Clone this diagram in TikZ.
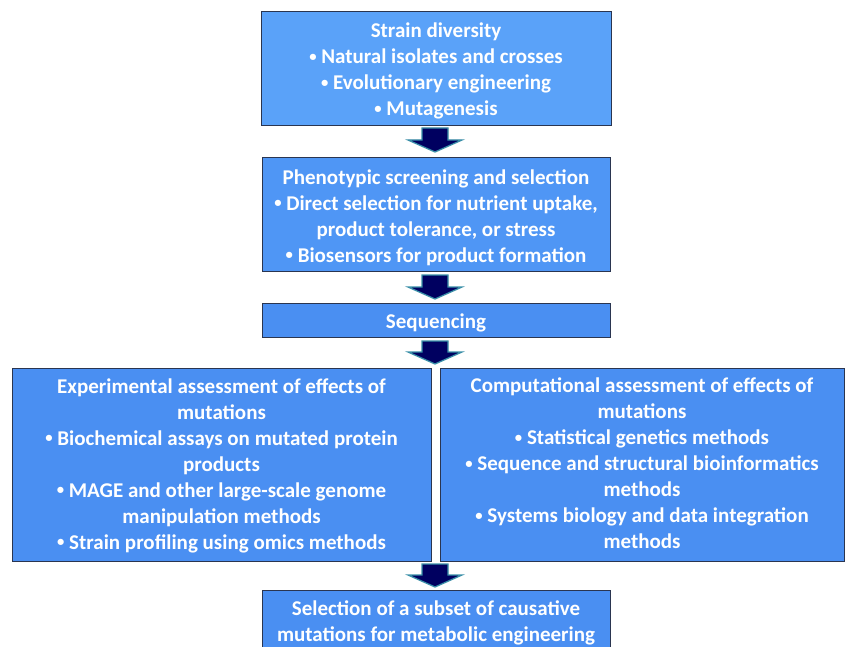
\documentclass[tikz,border=0pt]{standalone}
\usepackage{fontspec}
\setmainfont{Carlito}
\usetikzlibrary{calc}
\definecolor{boxA}{HTML}{5AA2F9}
\definecolor{boxB}{HTML}{4F96F5}
\definecolor{boxC}{HTML}{4A8FF2}
\definecolor{edge}{HTML}{2A3550}
\definecolor{arrfill}{HTML}{000060}
\definecolor{arredge}{HTML}{3A8FA8}
\newcommand{\bul}{\raisebox{0.12em}{\scalebox{0.7}{•}}}
\tikzset{
  box/.style={draw=edge, line width=0.9pt, inner sep=0pt},
  boxtext/.style={text=white, align=center,
    font=\fontsize{21}{26}\selectfont\bfseries, inner sep=0pt},
  barrow/.style={fill=arrfill, draw=arredge, line width=1.3pt, line join=miter}
}
\newcommand{\blockarrow}[2]{% #1 top coordinate, #2 bottom coordinate
  \draw[barrow] ($(#1)+(-13,0)$) -- ($(#1)+(13,0)$) -- ($(#2)+(13,-12)$) -- ($(#2)+(27,-12)$)
    -- (#2) -- ($(#2)+(-27,-12)$) -- ($(#2)+(-13,-12)$) -- cycle;}
\begin{document}
\begin{tikzpicture}[x=1pt,y=-1pt]
\useasboundingbox (0,0) rectangle (845,647);
\clip (0,0) rectangle (845,647);
\node[box, fill=boxA, minimum width=350, minimum height=114] (b1) at (436,68) {};
\node[boxtext] (t1) at ($(b1.center)+(0,3)$)
  {Strain diversity\\ \bul{} Natural isolates and crosses\\ \bul{} Evolutionary engineering\\ \bul{} Mutagenesis};
\node[box, fill=boxB, minimum width=348, minimum height=114] (b2) at (436,214) {};
\node[boxtext] (t2) at ($(b2.center)+(0,3.5)$)
  {Phenotypic screening and selection\\ \bul{} Direct selection for nutrient uptake,\\ product tolerance, or stress\\ \bul{} Biosensors for product formation};
\node[box, fill=boxC, minimum width=348, minimum height=34] (b3) at (436,320) {};
\node[boxtext] (t3) at ($(b3.center)+(0,2.5)$) {Sequencing};
\node[box, fill=boxC, minimum width=419, minimum height=193] (b4) at (221.5,464.5) {};
\node[boxtext] (t4) at ($(b4.center)+(0,1)$)
  {Experimental assessment of effects of\\ mutations\\ \bul{} Biochemical assays on mutated protein\\ products\\ \bul{} MAGE and other large-scale genome\\ manipulation methods\\ \bul{} Strain profiling using omics methods};
\node[box, fill=boxC, minimum width=404, minimum height=193] (b5) at (642,464.5) {};
\node[boxtext] (t5) at ($(b5.center)+(0,-1)$)
  {Computational assessment of effects of\\ mutations\\ \bul{} Statistical genetics methods\\ \bul{} Sequence and structural bioinformatics\\ methods\\ \bul{} Systems biology and data integration\\ methods};
\node[box, fill=boxC, minimum width=348, minimum height=62] (b6) at (436,621) {};
\node[boxtext] (t6) at ($(b6.center)+(0,2)$)
  {Selection of a subset of causative\\ mutations for metabolic engineering};
\coordinate (a1t) at (435,128); \coordinate (a1b) at (435,152);
\coordinate (a2t) at (435,275); \coordinate (a2b) at (435,299);
\coordinate (a3t) at (435,341); \coordinate (a3b) at (435,364);
\coordinate (a4t) at (435,564); \coordinate (a4b) at (435,587);
\blockarrow{a1t}{a1b}
\blockarrow{a2t}{a2b}
\blockarrow{a3t}{a3b}
\blockarrow{a4t}{a4b}
\end{tikzpicture}
\end{document}
